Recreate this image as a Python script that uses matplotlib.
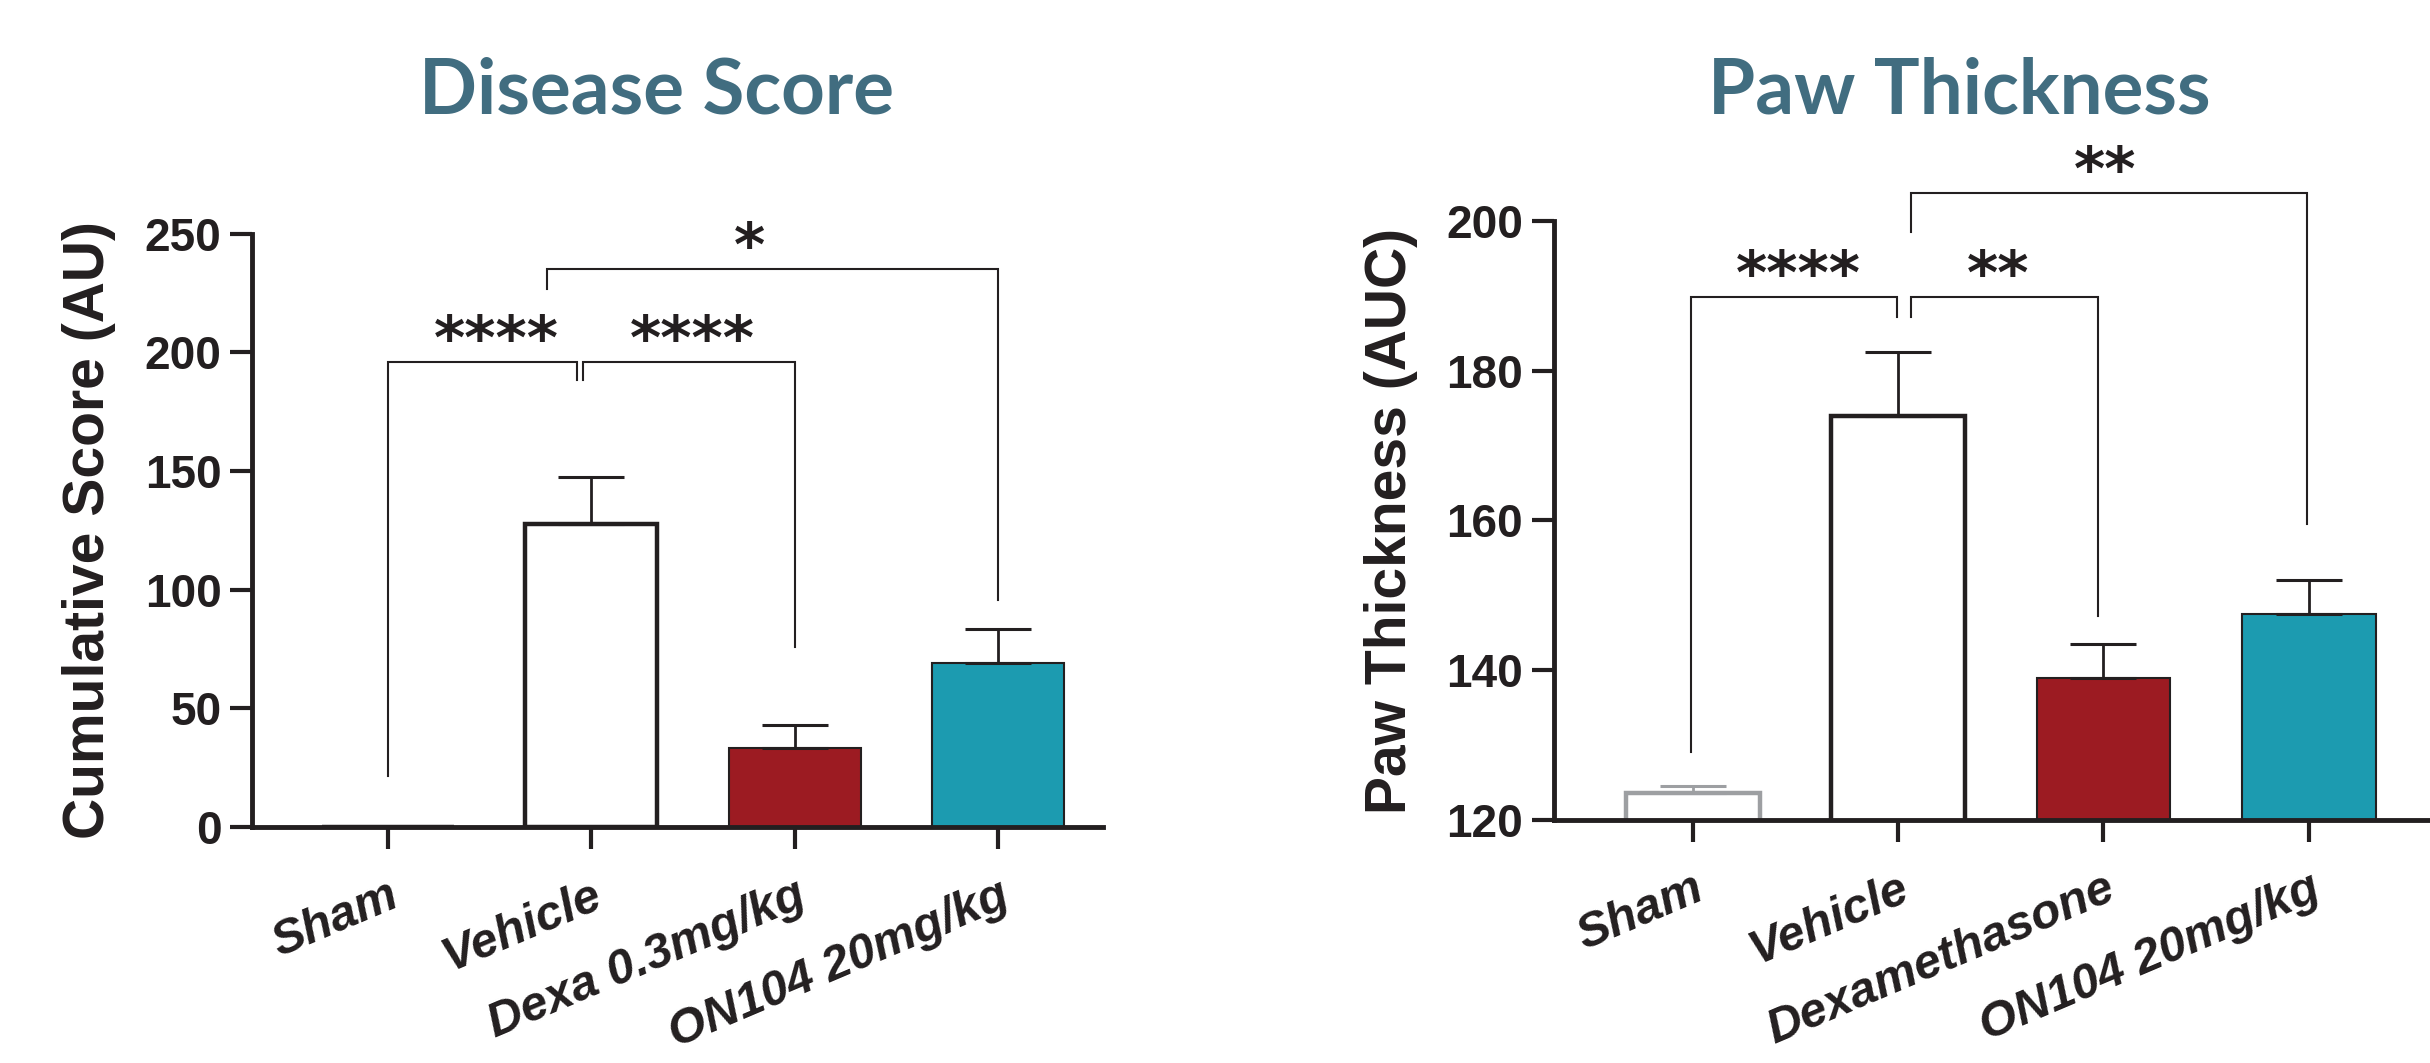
import matplotlib
matplotlib.use("Agg")
import matplotlib.pyplot as plt
from matplotlib.transforms import ScaledTranslation

# ---- data ----
disease_groups = ["Sham", "Vehicle", "Dexa 0.3mg/kg", "ON104 20mg/kg"]
disease_mean = [0.0, 127.7, 33.2, 69.2]
disease_sem = [0.0, 19.8, 9.9, 14.4]

paw_groups = ["Sham", "Vehicle", "Dexamethasone", "ON104 20mg/kg"]
paw_mean = [123.6, 173.9, 139.0, 147.5]
paw_sem = [0.9, 8.6, 4.5, 4.6]

# significance brackets: (x_left, x_right, y_bar, y_left_end, y_right_end, stars, star_x)
disease_brackets = [
    (0.0, 0.93, 196.0, 21.6, 188.5, "****", 0.535),
    (0.96, 2.0, 196.0, 188.5, 76.0, "****", 1.498),
    (0.78, 3.0, 235.1, 226.7, 95.7, "*", 1.78),
]
paw_brackets = [
    (-0.007, 0.993, 189.9, 129.1, 187.2, "****", 0.516),
    (1.063, 1.975, 189.9, 187.2, 147.2, "**", 1.486),
    (1.063, 2.99, 203.8, 198.5, 159.5, "**", 2.01),
]

# ---- style ----
INK = "#231f20"
GREY = "#9d9fa2"
RED = "#9c1b22"
TEAL = "#1c9bb0"
TITLE_C = "#416d80"
face_colors = ["white", "white", RED, TEAL]
edge_widths = [3.2, 3.2, 1.5, 1.5]
BASE_FONT = ["Liberation Sans", "DejaVu Sans"]

fig = plt.figure(figsize=(24.3, 10.63), dpi=100)


def draw_panel(ax, groups, mean, sem, brackets, ylim, yticks, ylabel, xlim, sham_color):
    x = list(range(len(groups)))
    edges = [sham_color, INK, INK, INK]
    ax.bar(x, mean, width=0.65, color=face_colors, edgecolor=edges,
           linewidth=edge_widths, zorder=2)
    for xi, m, s, c in zip(x, mean, sem, edges):
        if s > 0:
            ax.errorbar(xi, m, yerr=[[0], [s]], fmt="none", ecolor=c,
                        elinewidth=2, capsize=24, capthick=2.2, zorder=3)

    # significance brackets with stars
    for x1, x2, yb, y1, y2, stars, sx in brackets:
        ax.plot([x1, x1, x2, x2], [y1, yb, yb, y2], color=INK, lw=1.5,
                clip_on=False, zorder=4, solid_joinstyle="miter")
        ax.annotate(stars, (sx, yb), xytext=(0, 2), textcoords="offset points",
                    ha="center", va="baseline", fontsize=43, fontweight="bold",
                    family="DejaVu Sans", color=INK, annotation_clip=False)

    ax.set_xlim(*xlim)
    ax.set_ylim(*ylim)
    ax.set_yticks(yticks)
    ax.set_xticks(x)
    ax.set_xticklabels(groups, rotation=23, ha="right", va="top",
                       rotation_mode="anchor", fontstyle="italic",
                       fontweight="bold", fontsize=35, family=BASE_FONT, color=INK)
    for lbl in ax.get_yticklabels():
        lbl.set_fontweight("bold")
        lbl.set_fontsize(33)
        lbl.set_family(BASE_FONT)
        lbl.set_color(INK)
    shift = ScaledTranslation(0.12, 0, fig.dpi_scale_trans)
    for lbl in ax.get_xticklabels():
        lbl.set_transform(lbl.get_transform() + shift)

    for side in ("top", "right"):
        ax.spines[side].set_visible(False)
    for side in ("left", "bottom"):
        ax.spines[side].set_linewidth(3.5)
        ax.spines[side].set_color(INK)
    ax.tick_params(axis="both", direction="out", length=16, width=3, color=INK)
    ax.tick_params(axis="x", pad=17)
    ax.tick_params(axis="y", pad=6)

    ax.set_ylabel(ylabel, fontsize=41, fontweight="bold", family=BASE_FONT, color=INK)
    ax.yaxis.set_label_coords(-0.16, 0.5)


ax1 = fig.add_axes([0.1037, 0.222, 0.3502, 0.558])
draw_panel(ax1, disease_groups, disease_mean, disease_sem, disease_brackets,
           (0, 250), [0, 50, 100, 150, 200, 250], "Cumulative Score (AU)",
           (-0.668, 3.516), INK)

ax2 = fig.add_axes([0.6394, 0.2286, 0.3606, 0.5635])
draw_panel(ax2, paw_groups, paw_mean, paw_sem, paw_brackets,
           (120, 200), [120, 140, 160, 180, 200], "Paw Thickness (AUC)",
           (-0.677, 3.59), GREY)
ax2.yaxis.set_label_coords(-0.155, 0.5)

title_kw = dict(fontsize=55, fontweight="bold", family=["Lato", "DejaVu Sans"],
                color=TITLE_C, ha="center", va="baseline")
fig.text(656.7 / 2430, 1 - 113 / 1063, "Disease Score", **title_kw)
fig.text(1959 / 2430, 1 - 113 / 1063, "Paw Thickness", **title_kw)

fig.savefig("out.png", dpi=100, facecolor="white")
